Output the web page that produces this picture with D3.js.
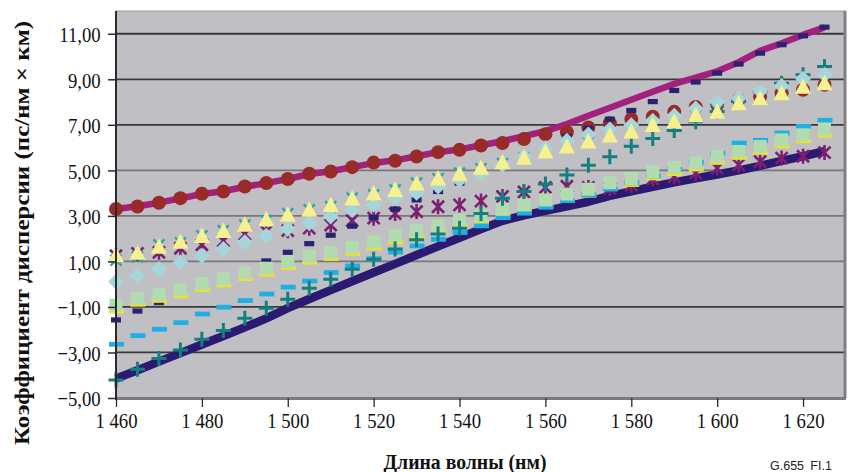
<!DOCTYPE html>
<html><head><meta charset="utf-8">
<script src="https://cdn.jsdelivr.net/npm/d3@7"></script>
<style>body{margin:0;background:#fff}svg{display:block}</style>
</head><body>
<svg id="c" width="848" height="472"></svg>
<script>
// ---- data ----
const wavelengths = [1460,1465,1470,1475,1480,1485,1490,1495,1500,1505,1510,1515,1520,1525,1530,1535,1540,1545,1550,1555,1560,1565,1570,1575,1580,1585,1590,1595,1600,1605,1610,1615,1620,1625];
const xTickValues = [1460,1480,1500,1520,1540,1560,1580,1600,1620];
const yTickValues = [-5,-3,-1,1,3,5,7,9,11];

const magentaLine = [3.30,3.42,3.58,3.77,3.96,4.08,4.28,4.44,4.62,4.84,4.96,5.14,5.32,5.44,5.62,5.80,5.92,6.10,6.28,6.50,6.72,7.03,7.40,7.75,8.10,8.45,8.80,9.07,9.35,9.75,10.25,10.58,10.95,11.28];
const navyLine = [-4.15,-3.78,-3.40,-3.03,-2.65,-2.28,-1.90,-1.50,-1.05,-0.65,-0.26,0.13,0.51,0.89,1.28,1.66,2.04,2.42,2.78,3.02,3.22,3.42,3.62,3.88,4.08,4.28,4.47,4.65,4.82,5.00,5.20,5.42,5.62,5.84];
const circles = [3.30,3.41,3.58,3.78,3.97,4.07,4.29,4.44,4.62,4.85,4.95,5.14,5.34,5.42,5.61,5.80,5.90,6.09,6.20,6.38,6.59,6.68,6.88,7.07,7.26,7.36,7.57,7.78,7.88,8.10,8.24,8.39,8.54,8.76];
const navyDash = [-1.57,-1.18,-0.81,-0.43,-0.13,0.23,0.66,1.02,1.40,1.78,2.15,2.55,2.93,3.30,3.70,4.07,4.44,4.85,5.25,5.62,6.00,6.49,6.85,7.25,7.63,8.02,8.51,8.88,9.27,9.67,10.15,10.52,10.91,11.29];
const diamonds = [0.11,0.38,0.67,0.96,1.25,1.54,1.84,2.13,2.43,2.68,2.97,3.26,3.50,3.80,4.02,4.29,4.58,4.85,5.25,5.62,5.98,6.30,6.58,6.80,6.98,7.18,7.40,7.72,8.00,8.17,8.48,8.70,9.02,9.20];
const triangles = [1.21,1.32,1.58,1.80,2.05,2.27,2.55,2.78,2.98,3.20,3.41,3.70,3.92,4.07,4.36,4.58,4.78,5.05,5.29,5.49,5.76,5.98,6.20,6.46,6.64,6.93,7.08,7.36,7.51,7.88,8.10,8.32,8.61,8.76];
const tealX = [1.05,1.20,1.73,1.82,2.12,2.35,2.60,2.79,3.10,3.26,3.41,3.78,3.92,4.14,4.44,4.63,4.88,5.07,5.30,5.54,5.83,6.05,6.25,6.55,6.72,7.05,7.20,7.48,7.65,8.00,8.22,8.45,8.75,8.95];
const purpleStar = [1.25,1.35,1.40,1.58,1.73,1.90,2.20,2.32,2.35,2.46,2.60,2.79,2.90,3.10,3.19,3.40,3.48,3.65,3.85,4.05,4.25,4.30,4.25,4.20,4.35,4.62,4.72,4.88,5.10,5.24,5.39,5.54,5.62,5.78];
const tealPlus = [-4.21,-3.74,-3.26,-2.89,-2.42,-2.04,-1.50,-1.06,-0.66,-0.18,0.22,0.66,1.10,1.55,1.95,2.20,2.46,3.10,3.78,4.07,4.40,4.80,5.22,5.60,6.06,6.40,6.75,7.14,7.58,8.02,8.46,8.83,9.20,9.56];
const lightBlueDash = [-2.64,-2.26,-1.98,-1.69,-1.31,-1.01,-0.72,-0.43,-0.13,0.14,0.51,0.80,1.12,1.41,1.68,1.97,2.27,2.56,2.92,3.12,3.38,3.67,3.92,4.18,4.45,4.75,5.05,5.35,5.76,6.20,6.32,6.64,6.93,7.20];
const squares = [-0.92,-0.62,-0.45,-0.25,0.03,0.23,0.51,0.70,0.99,1.23,1.39,1.62,1.85,2.12,2.35,2.55,2.82,3.00,3.29,3.48,3.70,3.96,4.17,4.46,4.64,4.93,5.12,5.32,5.61,5.83,6.05,6.34,6.56,6.81];
const yellowDash = [-1.20,-0.90,-0.73,-0.53,-0.25,-0.05,0.23,0.42,0.71,0.95,1.11,1.34,1.57,1.84,2.07,2.27,2.54,2.72,3.01,3.20,3.42,3.68,3.89,4.18,4.36,4.65,4.84,5.04,5.33,5.55,5.77,6.06,6.28,6.53];

// ---- chart ----
const svg = d3.select("#c");
const x = d3.scaleLinear().domain([1460, 1630]).range([116, 846]);
const y = d3.scaleLinear().domain([-5, 12]).range([398, 11]);
const darkGrid = new Set([11, 9, 7, -1, -3]);

svg.append("rect")
  .attr("x", x(1460)).attr("y", y(12))
  .attr("width", x(1630) - x(1460)).attr("height", y(-5) - y(12))
  .attr("fill", "#c0c0c4");

// top border
svg.append("line").attr("x1", x(1460)).attr("x2", x(1630)).attr("y1", y(12)).attr("y2", y(12))
  .attr("stroke", "#9a9a9c").attr("stroke-width", 1);

// gridlines
svg.append("g").selectAll("line").data(yTickValues.filter(d => d > -5)).join("line")
  .attr("x1", x(1460)).attr("x2", x(1630))
  .attr("y1", d => y(d)).attr("y2", d => y(d))
  .attr("stroke", d => darkGrid.has(d) ? "#3a3a3c" : "#77777a")
  .attr("stroke-width", 1.8);

// right & bottom frame
svg.append("line").attr("x1", x(1630) - 1).attr("x2", x(1630) - 1).attr("y1", y(12)).attr("y2", y(-5))
  .attr("stroke", "#808082").attr("stroke-width", 3);
svg.append("line").attr("x1", x(1460)).attr("x2", x(1630)).attr("y1", y(-5) + 0.5).attr("y2", y(-5) + 0.5)
  .attr("stroke", "#7a7a7c").attr("stroke-width", 3);

const pts = arr => wavelengths.map((w, i) => [w, arr[i]]);
const lineGen = d3.line().x(d => x(d[0])).y(d => y(d[1]));

const plot = svg.append("g");
plot.append("path").attr("d", lineGen(pts(magentaLine))).attr("fill", "none")
  .attr("stroke", "#a3207e").attr("stroke-width", 6.5).attr("stroke-linejoin", "round");
plot.append("path").attr("d", lineGen(pts(navyLine))).attr("fill", "none")
  .attr("stroke", "#2c1a72").attr("stroke-width", 8.5).attr("stroke-linejoin", "round");

function markers(arr, make) {
  const g = plot.append("g");
  pts(arr).forEach(d => make(g.append("g").attr("transform", `translate(${x(d[0])},${y(d[1])})`)));
}
// circles
markers(circles, g => g.append("circle").attr("r", 7).attr("fill", "#982a2a"));
// purple asterisks
markers(purpleStar, g => {
  g.append("path").attr("d", "M-6,-6L6,6M-6,6L6,-6M0,-7.5L0,7.5")
    .attr("stroke", "#7c1f72").attr("stroke-width", 2.6).attr("fill", "none");
});
// navy dash
markers(navyDash, g => g.append("rect").attr("x", -5).attr("y", -2.6).attr("width", 10).attr("height", 5.2).attr("fill", "#2a226e"));
// yellow dash
markers(yellowDash, g => g.append("rect").attr("x", -7).attr("y", -2).attr("width", 15).attr("height", 4).attr("fill", "#f0e41e"));
// light blue dash
markers(lightBlueDash, g => g.append("rect").attr("x", -7).attr("y", -2.4).attr("width", 15).attr("height", 4.8).attr("fill", "#1eb0e4"));
// green squares
markers(squares, g => g.append("rect").attr("x", -6.5).attr("y", -6.5).attr("width", 13).attr("height", 13).attr("fill", "#b2dcb0"));
// teal plus
markers(tealPlus, g => {
  g.append("path").attr("d", "M-7.5,0L7.5,0M0,-7.5L0,7.5")
    .attr("stroke", "#147f80").attr("stroke-width", 3).attr("fill", "none");
});
// teal x
markers(tealX, g => {
  g.append("path").attr("d", "M-5.5,-5.5L5.5,5.5M-5.5,5.5L5.5,-5.5")
    .attr("stroke", "#2aa6a8").attr("stroke-width", 2.4).attr("fill", "none");
});
// diamonds
markers(diamonds, g => g.append("path").attr("d", "M0,-8L8,0L0,8L-8,0Z").attr("fill", "#a6d6da"));
// triangles
markers(triangles, g => g.append("path").attr("d", "M0,-10L8,5.5L-8,5.5Z").attr("fill", "#f6f08e"));

// axes
const fmtY = d => (d < 0 ? "\u2212" : "") + Math.abs(d).toFixed(2).replace(".", ",");
const yAxis = svg.append("g").attr("transform", `translate(${x(1460)},0)`)
  .call(d3.axisLeft(y).tickValues(yTickValues).tickSize(8).tickPadding(10).tickFormat(fmtY));
yAxis.select(".domain").attr("d", `M0,${y(12)}V${y(-5) + 2}`).attr("stroke", "#2a2a2a").attr("stroke-width", 2);
yAxis.selectAll(".tick line").attr("stroke", "#2a2a2a").attr("stroke-width", 1.5);
yAxis.selectAll(".tick text").attr("font-family", "'Liberation Serif', 'Times New Roman', serif")
  .attr("font-size", 22).attr("fill", "#111").attr("transform", "scale(0.85,1)").attr("dy", "0.35em");

const fmtX = d => "1\u00a0" + String(d - 1000);
const xAxis = svg.append("g").attr("transform", `translate(0,${y(-5)})`)
  .call(d3.axisBottom(x).tickValues(xTickValues).tickSize(9).tickPadding(5).tickFormat(fmtX));
xAxis.select(".domain").remove();
xAxis.selectAll(".tick line").attr("stroke", "#2a2a2a").attr("stroke-width", 1.3);
xAxis.selectAll(".tick text").attr("font-family", "'Liberation Serif', 'Times New Roman', serif")
  .attr("font-size", 22).attr("fill", "#111").attr("transform", "scale(0.85,1)");

// titles
svg.append("text").attr("x", 465).attr("y", 469).attr("text-anchor", "middle")
  .attr("font-family", "'Liberation Serif', 'Times New Roman', serif").attr("font-weight", "bold")
  .attr("font-size", 20).attr("fill", "#111")
  .attr("textLength", 163).attr("lengthAdjust", "spacingAndGlyphs")
  .text("Длина волны (нм)");
svg.append("text").attr("transform", "translate(29,233) rotate(-90)").attr("text-anchor", "middle")
  .attr("font-family", "'Liberation Serif', 'Times New Roman', serif").attr("font-weight", "bold")
  .attr("font-size", 21).attr("fill", "#111")
  .attr("textLength", 424).attr("lengthAdjust", "spacingAndGlyphs")
  .text("Коэффициент дисперсии (пс/нм × км)");
svg.append("text").attr("x", 770).attr("y", 470)
  .attr("font-family", "'Liberation Sans', Arial, sans-serif").attr("font-size", 12.5).attr("fill", "#222")
  .text("G.655\u2002FI.1");
</script>
</body></html>
